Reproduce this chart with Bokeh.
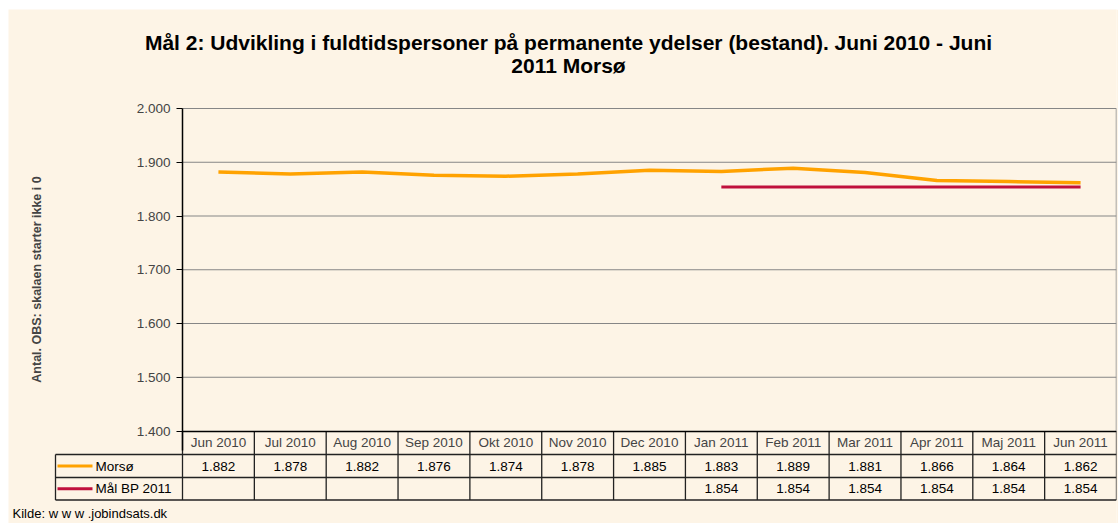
import numpy as np
from bokeh.plotting import figure
from bokeh.models import (Range1d, LinearAxis, FixedTicker, CustomJSTickFormatter)
from bokeh.core.properties import value
from bokeh.embed import file_html
from bokeh.resources import INLINE

# ---------------- data ----------------
months = ["Jun 2010", "Jul 2010", "Aug 2010", "Sep 2010", "Okt 2010", "Nov 2010",
          "Dec 2010", "Jan 2011", "Feb 2011", "Mar 2011", "Apr 2011", "Maj 2011", "Jun 2011"]
morso = [1882, 1878, 1882, 1876, 1874, 1878, 1885, 1883, 1889, 1881, 1866, 1864, 1862]
maal_bp = [None, None, None, None, None, None, None, 1854, 1854, 1854, 1854, 1854, 1854]
series_names = ["Morsø", "Mål BP 2011"]
y_ticks = [1400, 1500, 1600, 1700, 1800, 1900, 2000]
title_lines = ["Mål 2: Udvikling i fuldtidspersoner på permanente ydelser (bestand). Juni 2010 - Juni",
               "2011 Morsø"]
y_label = "Antal. OBS: skalaen starter ikke i 0"
source_text = "Kilde: w w w .jobindsats.dk"

# ---------------- style / layout ----------------
FONT = "Liberation Sans"
BG = "#FDF4E6"
ORANGE = "#FFA200"
RED = "#C0103C"
GRID = "#868686"
LINE = "#222222"

MARGIN_LEFT, MARGIN_TOP = 8, 9
W, H = 1110, 514
AXIS_X = 182                  # page x of the y axis
RIGHT_X = 1116                # page x of right edge of plot/table
COL_PX = (RIGHT_X - AXIS_X) / 13
TOP_Y = 108                   # page y of value 2000
UPP = 600 / 322.5             # value units per pixel


def px_x(page_x):
    return (page_x - AXIS_X) / COL_PX


def px_y(page_y):
    return 2000 - (page_y - TOP_Y) * UPP


x_start, x_end = px_x(MARGIN_LEFT), px_x(RIGHT_X)
y_start, y_end = px_y(MARGIN_TOP + H), px_y(MARGIN_TOP)

HEAD_B, ROW1_B, ROW2_B = px_y(454), px_y(477), px_y(499.5)
ROW1_Y, ROW2_Y = (HEAD_B + ROW1_B) / 2, (ROW1_B + ROW2_B) / 2
LEFT_COL = px_x(55)

p = figure(width=W, height=H, x_range=Range1d(x_start, x_end), y_range=Range1d(y_start, y_end),
           output_backend="svg", toolbar_location=None, x_axis_location=None, y_axis_location=None,
           min_border_left=0, min_border_right=W - (RIGHT_X - MARGIN_LEFT), min_border_top=0,
           min_border_bottom=0, background_fill_color=BG, border_fill_color=BG,
           outline_line_color=None)
p.margin = (MARGIN_TOP, 0, 0, MARGIN_LEFT)
p.title.visible = False
p.grid.visible = False

# title (two centred lines)
p.text(x=[px_x(568)] * 2, y=[px_y(42), px_y(65)], text=title_lines, text_font=value(FONT),
       text_font_size="21px", text_font_style="bold", text_color="black",
       text_align="center", text_baseline="alphabetic")

# y axis
yaxis = LinearAxis(fixed_location=0, bounds=(1364, 2000), ticker=FixedTicker(ticks=y_ticks),
                   formatter=CustomJSTickFormatter(code="return (tick/1000).toFixed(3)"),
                   axis_label=y_label, axis_label_text_font=FONT, axis_label_text_font_size="12.5px",
                   axis_label_text_font_style="bold", axis_label_standoff=90,
                   major_tick_out=6, major_tick_in=0, minor_tick_out=0, minor_tick_in=0,
                   major_label_text_font=FONT, major_label_text_font_size="13.5px",
                   major_label_standoff=6, axis_line_color="black", axis_line_width=1.5,
                   major_tick_line_color="black")
p.add_layout(yaxis, "left")

# x axis (table header)
xaxis = LinearAxis(fixed_location=1400, bounds=(0, 13),
                   ticker=FixedTicker(ticks=[i + 0.5 for i in range(len(months))]),
                   formatter=CustomJSTickFormatter(args=dict(labels=months),
                       code="const i = Math.floor(tick); return (i >= 0 && i < labels.length) ? labels[i] : ''"),
                   major_tick_out=0, major_tick_in=0, minor_tick_out=0, minor_tick_in=0,
                   major_label_text_font=FONT, major_label_text_font_size="13.5px",
                   major_label_standoff=4, axis_line_color="black", axis_line_width=1.5)
p.add_layout(xaxis, "below")

# gridlines and plot border
gy = y_ticks[1:]
p.segment(x0=[0] * len(gy), x1=[13] * len(gy), y0=gy, y1=gy, line_color=GRID, line_width=1.2)
p.segment(x0=[13], x1=[13], y0=[1400], y1=[2000], line_color=GRID, line_width=1.5)

# series lines
xs = np.arange(len(months)) + 0.5
morso_arr = np.array(morso, dtype=float)
maal_arr = np.array([np.nan if v is None else v for v in maal_bp], dtype=float)
p.line(xs, morso_arr, line_color=ORANGE, line_width=3.5)
p.line(xs, maal_arr, line_color=RED, line_width=3.2)

# table grid
hy = [HEAD_B, ROW1_B, ROW2_B]
p.segment(x0=[LEFT_COL] * 3, x1=[13] * 3, y0=hy, y1=hy, line_color=LINE, line_width=1.3)
vx = list(range(0, 14))
p.segment(x0=vx, x1=vx, y0=[ROW2_B] * len(vx), y1=[1400] * len(vx), line_color=LINE, line_width=1.3)
p.segment(x0=[LEFT_COL], x1=[LEFT_COL], y0=[ROW2_B], y1=[HEAD_B], line_color=LINE, line_width=1.3)


def fmt(v):
    return "" if np.isnan(v) else f"{v / 1000:.3f}"


txt_kw = dict(text_font=value(FONT), text_font_size="13.5px", text_color="black",
              text_align="center", text_baseline="middle")
p.text(x=xs, y=[ROW1_Y] * len(xs), text=[fmt(v) for v in morso_arr], **txt_kw)
p.text(x=xs, y=[ROW2_Y] * len(xs), text=[fmt(v) for v in maal_arr], **txt_kw)

# legend keys in table
LX0, LX1, LTX = px_x(57), px_x(92), px_x(95)
p.segment(x0=[LX0], x1=[LX1], y0=[ROW1_Y], y1=[ROW1_Y], line_color=ORANGE, line_width=3)
p.segment(x0=[LX0], x1=[LX1], y0=[ROW2_Y], y1=[ROW2_Y], line_color=RED, line_width=3)
p.text(x=[LTX, LTX], y=[ROW1_Y, ROW2_Y], text=series_names, text_font=value(FONT),
       text_font_size="13.5px", text_color="black", text_align="left", text_baseline="middle")

# source
p.text(x=[px_x(12)], y=[px_y(513)], text=[source_text],
       text_font=value(FONT), text_font_size="13px", text_color="black",
       text_align="left", text_baseline="middle")

open("out.html", "w").write(file_html(p, INLINE))
